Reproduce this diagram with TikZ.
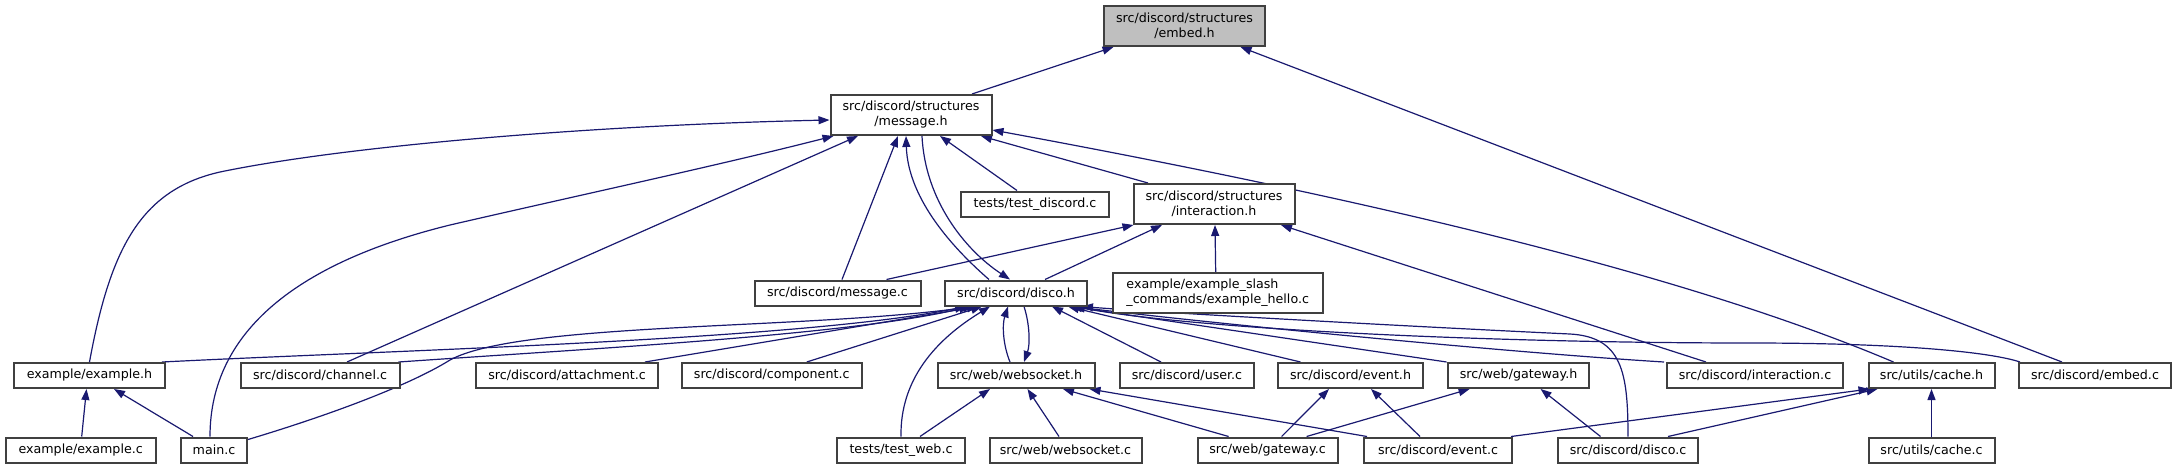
\documentclass[tikz,border=0pt]{standalone}
\usepackage{fontspec}
\newfontfamily\dvs{DejaVu Sans}
\usetikzlibrary{arrows.meta}
\definecolor{edgecol}{HTML}{191970}
\definecolor{hlfill}{HTML}{BFBFBF}
\definecolor{bordercol}{HTML}{404040}
\pgfdeclarelayer{bg}
\pgfsetlayers{bg,main}
\begin{document}
\begin{tikzpicture}[x=1pt,y=-1pt,
  box/.style={draw=bordercol, line width=2pt, fill=white, inner sep=0pt,
    minimum height=25pt, font=\dvs\fontsize{12.66}{15}\selectfont, align=center},
  two/.style={minimum height=40pt},
  edge/.style={draw=edgecol, line width=1.2pt, -{Triangle[length=11pt,width=8pt]}}]
\useasboundingbox (0,0) rectangle (2177,469);
% nodes
\node[box,two,fill=hlfill,minimum width=161pt] (embed) at (1184.5,26) {src/discord/structures\\/embed.h};
\node[box,two,minimum width=161pt] (message) at (911,115) {src/discord/structures\\/message.h};
\node[box,minimum width=148pt] (testdiscord) at (1035,204) {tests/test\_discord.c};
\node[box,two,minimum width=161pt] (interh) at (1214,204) {src/discord/structures\\/interaction.h};
\node[box,minimum width=166pt] (messagec) at (837.5,293) {src/discord/message.c};
\node[box,minimum width=142pt] (discoh) at (1016,293) {src/discord/disco.h};
\node[box,two,minimum width=210pt,align=left] (hello) at (1217.7,293) {example/example\_slash\\\_commands/example\_hello.c};
\node[box,minimum width=151pt] (exampleh) at (89.5,375.5) {example/example.h};
\node[box,minimum width=159pt] (channelc) at (320,375.5) {src/discord/channel.c};
\node[box,minimum width=182pt] (attachc) at (567,375.5) {src/discord/attachment.c};
\node[box,minimum width=180pt] (compc) at (771.7,375.5) {src/discord/component.c};
\node[box,minimum width=157pt] (wsh) at (1016,375.5) {src/web/websocket.h};
\node[box,minimum width=134pt] (userc) at (1187,375.5) {src/discord/user.c};
\node[box,minimum width=145pt] (eventh) at (1350.5,375.5) {src/discord/event.h};
\node[box,minimum width=141pt] (gwh) at (1518.6,375.5) {src/web/gateway.h};
\node[box,minimum width=176pt] (interc) at (1755,375.5) {src/discord/interaction.c};
\node[box,minimum width=126pt] (cacheh) at (1931.5,375.5) {src/utils/cache.h};
\node[box,minimum width=152pt] (embedc) at (2095,375.5) {src/discord/embed.c};
\node[box,minimum width=150pt] (examplec) at (80.7,450) {example/example.c};
\node[box,minimum width=66pt] (mainc) at (214,450) {main.c};
\node[box,minimum width=128pt] (testweb) at (901,450) {tests/test\_web.c};
\node[box,minimum width=152pt] (wsc) at (1065.5,450) {src/web/websocket.c};
\node[box,minimum width=140pt] (gwc) at (1267.6,450) {src/web/gateway.c};
\node[box,minimum width=148pt] (eventc) at (1438,450) {src/discord/event.c};
\node[box,minimum width=140pt] (discoc) at (1628,450) {src/discord/disco.c};
\node[box,minimum width=126pt] (cachec) at (1931.5,450) {src/utils/cache.c};
\begin{pgfonlayer}{bg}
\fill[white] (0,0) rectangle (2177,469);
% to embed.h
\draw[edge] ([xshift=61pt]message.north) -- ([xshift=-71pt]embed.south);
\draw[edge] ([xshift=-33pt]embedc.north) -- ([xshift=56pt]embed.south);
% to message.h
\draw[edge] (exampleh.north) .. controls (110,250) and (140,190) .. (220,172) .. controls (350,145) and (600,125) .. ([yshift=-5pt]message.west);
\draw[edge] ([xshift=27pt]channelc.north) -- ([xshift=-53pt]message.south);
\draw[edge] ([xshift=-4pt]mainc.north) .. controls (210,330) and (300,262) .. (450,225) .. controls (580,195) and (720,165) .. ([xshift=4pt]message.south west);
\draw[edge] ([xshift=4.5pt]messagec.north) -- ([xshift=-13pt]message.south);
\draw[edge] ([xshift=-27pt]discoh.north) .. controls (955,250) and (908,200) .. ([xshift=-5pt]message.south);
\draw[edge] ([xshift=11pt]message.south) .. controls (925,200) and (965,250) .. ([xshift=-6pt]discoh.north);
\draw[edge] ([xshift=-18pt]testdiscord.north) -- ([xshift=29pt]message.south);
\draw[edge] ([xshift=-66pt]interh.north) -- ([xshift=70pt]message.south);
\draw[edge] ([xshift=-38pt]cacheh.north) .. controls (1700,280) and (1400,205) .. ([yshift=-15pt]message.east);
% to interaction.h
\draw[edge] ([xshift=49pt]messagec.north) -- ([xshift=1pt]interh.south west);
\draw[edge] ([xshift=29pt]discoh.north) -- ([xshift=-52pt]interh.south);
\draw[edge] ([xshift=-2pt]hello.north) -- ([xshift=1pt]interh.south);
\draw[edge] ([xshift=-49pt]interc.north) -- ([xshift=67pt]interh.south);
% to disco.h
\draw[edge] ([xshift=-4pt]exampleh.north east) .. controls (400,350) and (800,340) .. ([xshift=-50pt]discoh.south);
\draw[edge] ([xshift=-2pt]channelc.north east) .. controls (600,348) and (850,335) .. ([xshift=-46pt]discoh.south);
\draw[edge] ([yshift=-3pt]mainc.north east) .. controls (330,415) and (410,385) .. (450,360) .. controls (520,322) and (800,330) .. ([xshift=-42pt]discoh.south);
\draw[edge] ([xshift=78pt]attachc.north) -- ([xshift=-38pt]discoh.south);
\draw[edge] ([xshift=35pt]compc.north) -- ([xshift=-34pt]discoh.south);
\draw[edge] ([xshift=-6pt]wsh.north) .. controls (1003,345) and (1002,325) .. ([xshift=-8pt]discoh.south);
\draw[edge] ([xshift=8pt]discoh.south) .. controls (1030,325) and (1030,345) .. ([xshift=8pt]wsh.north);
\draw[edge] (testweb.north) .. controls (900,380) and (935,340) .. ([xshift=-26pt]discoh.south);
\draw[edge] ([xshift=-26pt]userc.north) -- ([xshift=36pt]discoh.south);
\draw[edge] ([xshift=-50pt]eventh.north) -- ([xshift=52pt]discoh.south);
\draw[edge] ([xshift=-72pt]gwh.north) -- ([xshift=55pt]discoh.south);
\draw[edge] ([xshift=-2pt]interc.north west) .. controls (1500,352) and (1200,322) .. ([xshift=56pt]discoh.south);
\draw[edge] ([xshift=2pt]embedc.north west) .. controls (1990,352) and (1900,343) .. (1750,343) .. controls (1500,343) and (1200,330) .. ([xshift=58pt]discoh.south);
\draw[edge] (discoc.north) .. controls (1628,372) and (1622,337) .. (1570,334) .. controls (1400,326) and (1150,312) .. ([xshift=-6pt]discoh.south east);
% to websocket.h
\draw[edge] ([xshift=19pt]testweb.north) -- ([xshift=-26pt]wsh.south);
\draw[edge] ([xshift=-6.5pt]wsc.north) -- ([xshift=11.5pt]wsh.south);
\draw[edge] ([xshift=-39pt]gwc.north) -- ([xshift=47pt]wsh.south);
\draw[edge] ([xshift=-71pt]eventc.north) -- ([xshift=-6pt]wsh.south east);
% to event.h, gateway.h
\draw[edge] ([xshift=14pt]gwc.north) -- ([xshift=-21.5pt]eventh.south);
\draw[edge] ([xshift=-18pt]eventc.north) -- ([xshift=20.5pt]eventh.south);
\draw[edge] ([xshift=39pt]gwc.north) -- ([xshift=-49pt]gwh.south);
\draw[edge] ([xshift=-27.5pt]discoc.north) -- ([xshift=22pt]gwh.south);
% to cache.h
\draw[edge] ([xshift=-2pt]eventc.north east) -- ([xshift=2pt]cacheh.south west);
\draw[edge] ([xshift=40pt]discoc.north) -- ([xshift=10pt]cacheh.south west);
\draw[edge] (cachec.north) -- (cacheh.south);
% to example.h
\draw[edge] ([xshift=1pt]examplec.north) -- ([xshift=-3pt]exampleh.south);
\draw[edge] ([xshift=-21pt]mainc.north) -- ([xshift=24.5pt]exampleh.south);
\end{pgfonlayer}
\end{tikzpicture}
\end{document}
